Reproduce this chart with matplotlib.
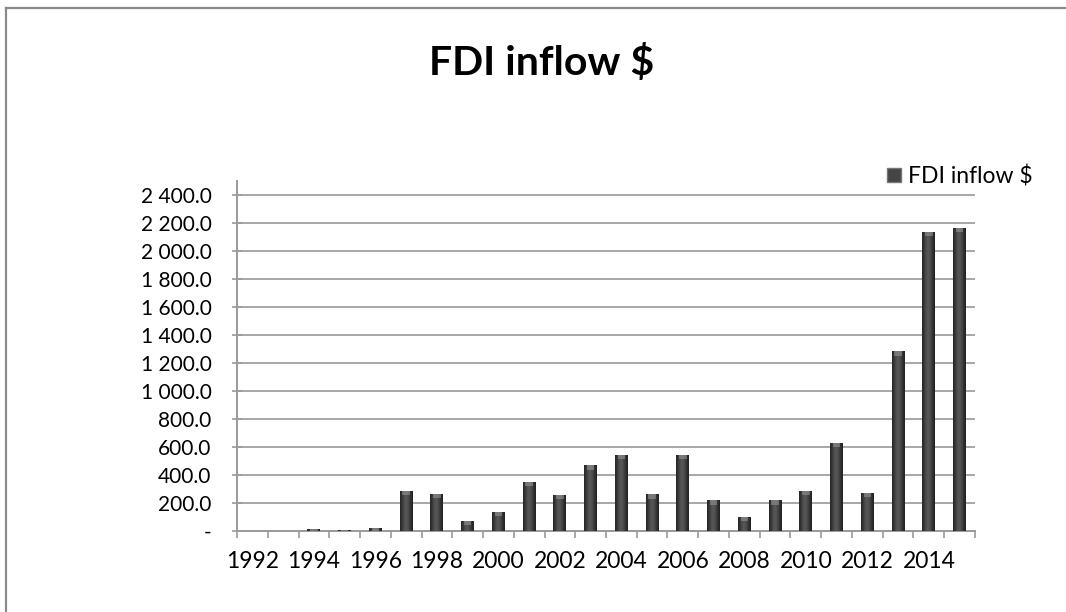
import matplotlib
matplotlib.use('Agg')
import matplotlib.pyplot as plt
import matplotlib.patches as mpatches
import matplotlib.ticker as mticker
import numpy as np

plt.rcParams['font.family'] = ['Lato', 'DejaVu Sans']

years = list(range(1992, 2016))
fdi_inflow = [0, 0, 12, 10, 25, 287, 265, 70, 135, 350, 258, 468,
              541, 261, 541, 218, 103, 218, 285, 627, 275, 1283, 2137, 2166]
series_name = 'FDI inflow $'

W, H = 1066, 612
fig = plt.figure(figsize=(W / 100, H / 100), dpi=100)

# outer chart frame (only left and top edges fall inside the image)
fig.add_artist(plt.Line2D([6 / W, 6 / W], [0, 1 - 8 / H], color='#8a8a8a', lw=1.6))
fig.add_artist(plt.Line2D([6 / W, 1], [1 - 8 / H, 1 - 8 / H], color='#8a8a8a', lw=1.6))

ax = fig.add_axes([237 / W, 1 - 531 / H, (975 - 237) / W, (531 - 181) / H])

x = np.arange(len(years))
width = 0.42
ax.set_xlim(-0.5, len(years) - 0.5)
ax.set_ylim(0, 2500)

# cylinder-ish shading: dark edges, lighter core
grad = np.array([0.16, 0.21, 0.27, 0.32, 0.34, 0.33, 0.29, 0.24, 0.18, 0.14])
grad_img = np.tile(grad, (2, 1))
bars = ax.bar(x, fdi_inflow, width, color='#404040', zorder=3)
for b, v in zip(bars, fdi_inflow):
    if v <= 0:
        continue
    x0 = b.get_x()
    img = ax.imshow(grad_img, cmap='gray', vmin=0, vmax=1, aspect='auto',
                    extent=[x0, x0 + width, 0, v], zorder=3.5,
                    interpolation='bicubic')
    img.set_clip_path(b)
    b.set_facecolor('none')
    # light rim at the top of each bar
    cap = min(v, 30)
    ax.add_patch(mpatches.Rectangle((x0 + width * 0.2, v - cap), width * 0.6, cap,
                                    facecolor='#9a9a9a', edgecolor='none',
                                    alpha=0.55, zorder=4))

ax.set_yticks(np.arange(0, 2401, 200))
ax.yaxis.set_major_formatter(mticker.FuncFormatter(
    lambda v, p: '-' if v == 0 else '{:,.1f}'.format(v).replace(',', ' ')))
ax.set_xticks(x[::2])
ax.set_xticklabels([str(y) for y in years[::2]])
ax.set_xticks(np.arange(-0.5, len(years)), minor=True)
ax.tick_params(axis='x', which='major', length=0, pad=14.5, labelsize=16.5)
ax.tick_params(axis='x', which='minor', length=5, width=1.2, color='#9a9a9a',
               direction='out')
ax.tick_params(axis='y', length=6.5, width=1.2, color='#9a9a9a', direction='inout',
               labelsize=15, pad=15)

for t in ax.get_yticks():
    ax.axhline(t, color='#a0a0a0', lw=1.3, zorder=1)

for side in ['top', 'right']:
    ax.spines[side].set_visible(False)
ax.spines['left'].set_color('#9a9a9a')
ax.spines['left'].set_linewidth(1.4)
ax.spines['bottom'].set_color('#9a9a9a')
ax.spines['bottom'].set_linewidth(1.4)

fig.text(542 / W, 1 - 75 / H, 'FDI inflow $', ha='center', va='baseline',
         fontsize=29.5, fontweight='bold')

handle = mpatches.Patch(facecolor='#454545', edgecolor='#777777', label=series_name)
fig.legend(handles=[handle], loc='center right', bbox_to_anchor=(1044 / W, 1 - 176 / H),
           frameon=False, fontsize=16.5, handlelength=0.6, handleheight=0.6,
           handletextpad=0.3, borderpad=0)

fig.savefig('out.png', dpi=100)
